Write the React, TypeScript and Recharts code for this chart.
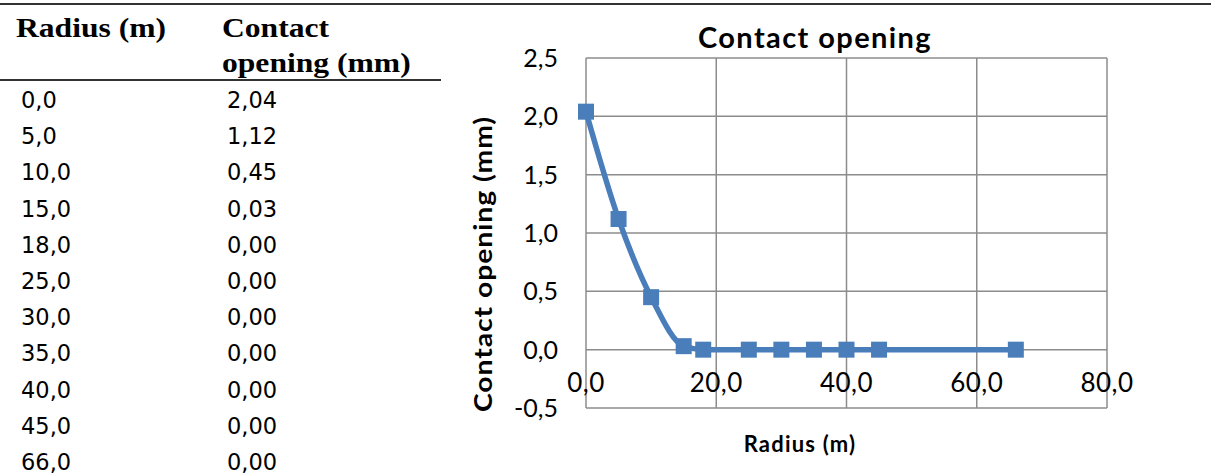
import { LineChart, Line, XAxis, YAxis, CartesianGrid } from "recharts"

// table + chart values
const radius = [0, 5, 10, 15, 18, 25, 30, 35, 40, 45, 66]
const opening = [2.04, 1.12, 0.45, 0.03, 0, 0, 0, 0, 0, 0, 0]
const xTicks = [0, 20, 40, 60, 80]
const yTicks = [-0.5, 0, 0.5, 1, 1.5, 2, 2.5]

const chartTitle = "Contact opening"
const xTitle = "Radius (m)"
const yTitle = "Contact opening (mm)"

const blue = "#4a7ebb"
const chartFont = "Lato, 'Open Sans', sans-serif"

const comma = (v: number, d: number) => v.toFixed(d).replace(".", ",")

const data = radius.map((r, i) => ({ r, v: opening[i] }))

function XTick({ x, y, payload }: any) {
  return (
    <text x={x} y={y} dy={-18} textAnchor="middle" fontSize={26} fill="#000" fontFamily={chartFont} letterSpacing={0.5}>
      {comma(payload.value, 1)}
    </text>
  )
}

function YTick({ x, y, payload }: any) {
  return (
    <text x={x} y={y} dy={9} textAnchor="end" fontSize={25} fill="#000" fontFamily={chartFont}>
      {comma(payload.value, 1)}
    </text>
  )
}

function Marker({ cx, cy, index }: any) {
  return <rect key={index} x={cx - 8} y={cy - 8} width={16} height={16} fill={blue} />
}

export default function App() {
  const headStyle: any = {
    position: "absolute",
    fontFamily: "'Liberation Serif', 'Times New Roman', serif",
    fontWeight: "bold",
    fontSize: 27,
    lineHeight: "35px",
    transform: "scaleX(1.17)",
    transformOrigin: "left top",
    whiteSpace: "nowrap",
  }
  const cellStyle: any = {
    position: "absolute",
    fontFamily: "'DejaVu Sans', Verdana, sans-serif",
    fontSize: 22.5,
    lineHeight: "26px",
    color: "#000",
  }

  return (
    <div style={{ position: "absolute", left: 0, top: 0, width: 1211, height: 474, background: "#fff", overflow: "hidden" }}>
      <div style={{ position: "absolute", left: 0, top: 3, width: 1211, height: 2, background: "#333" }} />

      {/* table */}
      <div style={{ ...headStyle, left: 16, top: 11 }}>Radius (m)</div>
      <div style={{ ...headStyle, left: 222, top: 11 }}>
        Contact
        <br />
        opening (mm)
      </div>
      <div style={{ position: "absolute", left: 0, top: 79, width: 441, height: 2, background: "#333" }} />
      {radius.map((r, i) => (
        <div key={"r" + i}>
          <div style={{ ...cellStyle, left: 21, top: 87 + i * 36.2 }}>{comma(r, 1)}</div>
          <div style={{ ...cellStyle, left: 227, top: 87 + i * 36.2 }}>{comma(opening[i], 2)}</div>
        </div>
      ))}

      {/* chart */}
      <div
        style={{
          position: "absolute",
          left: 560,
          top: 19,
          width: 510,
          textAlign: "center",
          fontFamily: chartFont,
          fontWeight: "bold",
          fontSize: 29,
          lineHeight: "36px",
          letterSpacing: 1.4,
        }}
      >
        {chartTitle}
      </div>
      <div
        style={{
          position: "absolute",
          left: 483,
          top: 264,
          width: 360,
          marginLeft: -180,
          marginTop: -15,
          textAlign: "center",
          fontFamily: chartFont,
          fontWeight: "bold",
          fontSize: 24,
          lineHeight: "30px",
          letterSpacing: 0.8,
          transform: "rotate(-90deg) scaleX(1.18)",
        }}
      >
        {yTitle}
      </div>
      <div
        style={{
          position: "absolute",
          left: 700,
          top: 430,
          width: 200,
          textAlign: "center",
          fontFamily: chartFont,
          fontWeight: "bold",
          fontSize: 22,
          letterSpacing: 1.2,
        }}
      >
        {xTitle}
      </div>

      <div style={{ position: "absolute", left: 460, top: 0 }}>
        <LineChart width={700} height={474} data={data} margin={{ top: 58, right: 53, bottom: 0, left: 0 }}>
          <CartesianGrid stroke="#8c8c8c" strokeWidth={1.5} />
          <XAxis
            dataKey="r"
            type="number"
            domain={[0, 80]}
            ticks={xTicks}
            height={66}
            axisLine={false}
            tickLine={false}
            tickSize={0}
            tick={<XTick />}
            interval={0}
          />
          <YAxis
            type="number"
            domain={[-0.5, 2.5]}
            ticks={yTicks}
            width={126}
            axisLine={false}
            tickLine={false}
            tickSize={0}
            tickMargin={28}
            tick={<YTick />}
            interval={0}
          />
          <Line
            dataKey="v"
            type="monotone"
            stroke={blue}
            strokeWidth={5.5}
            dot={<Marker />}
            activeDot={false}
            isAnimationActive={false}
          />
        </LineChart>
      </div>
    </div>
  )
}
